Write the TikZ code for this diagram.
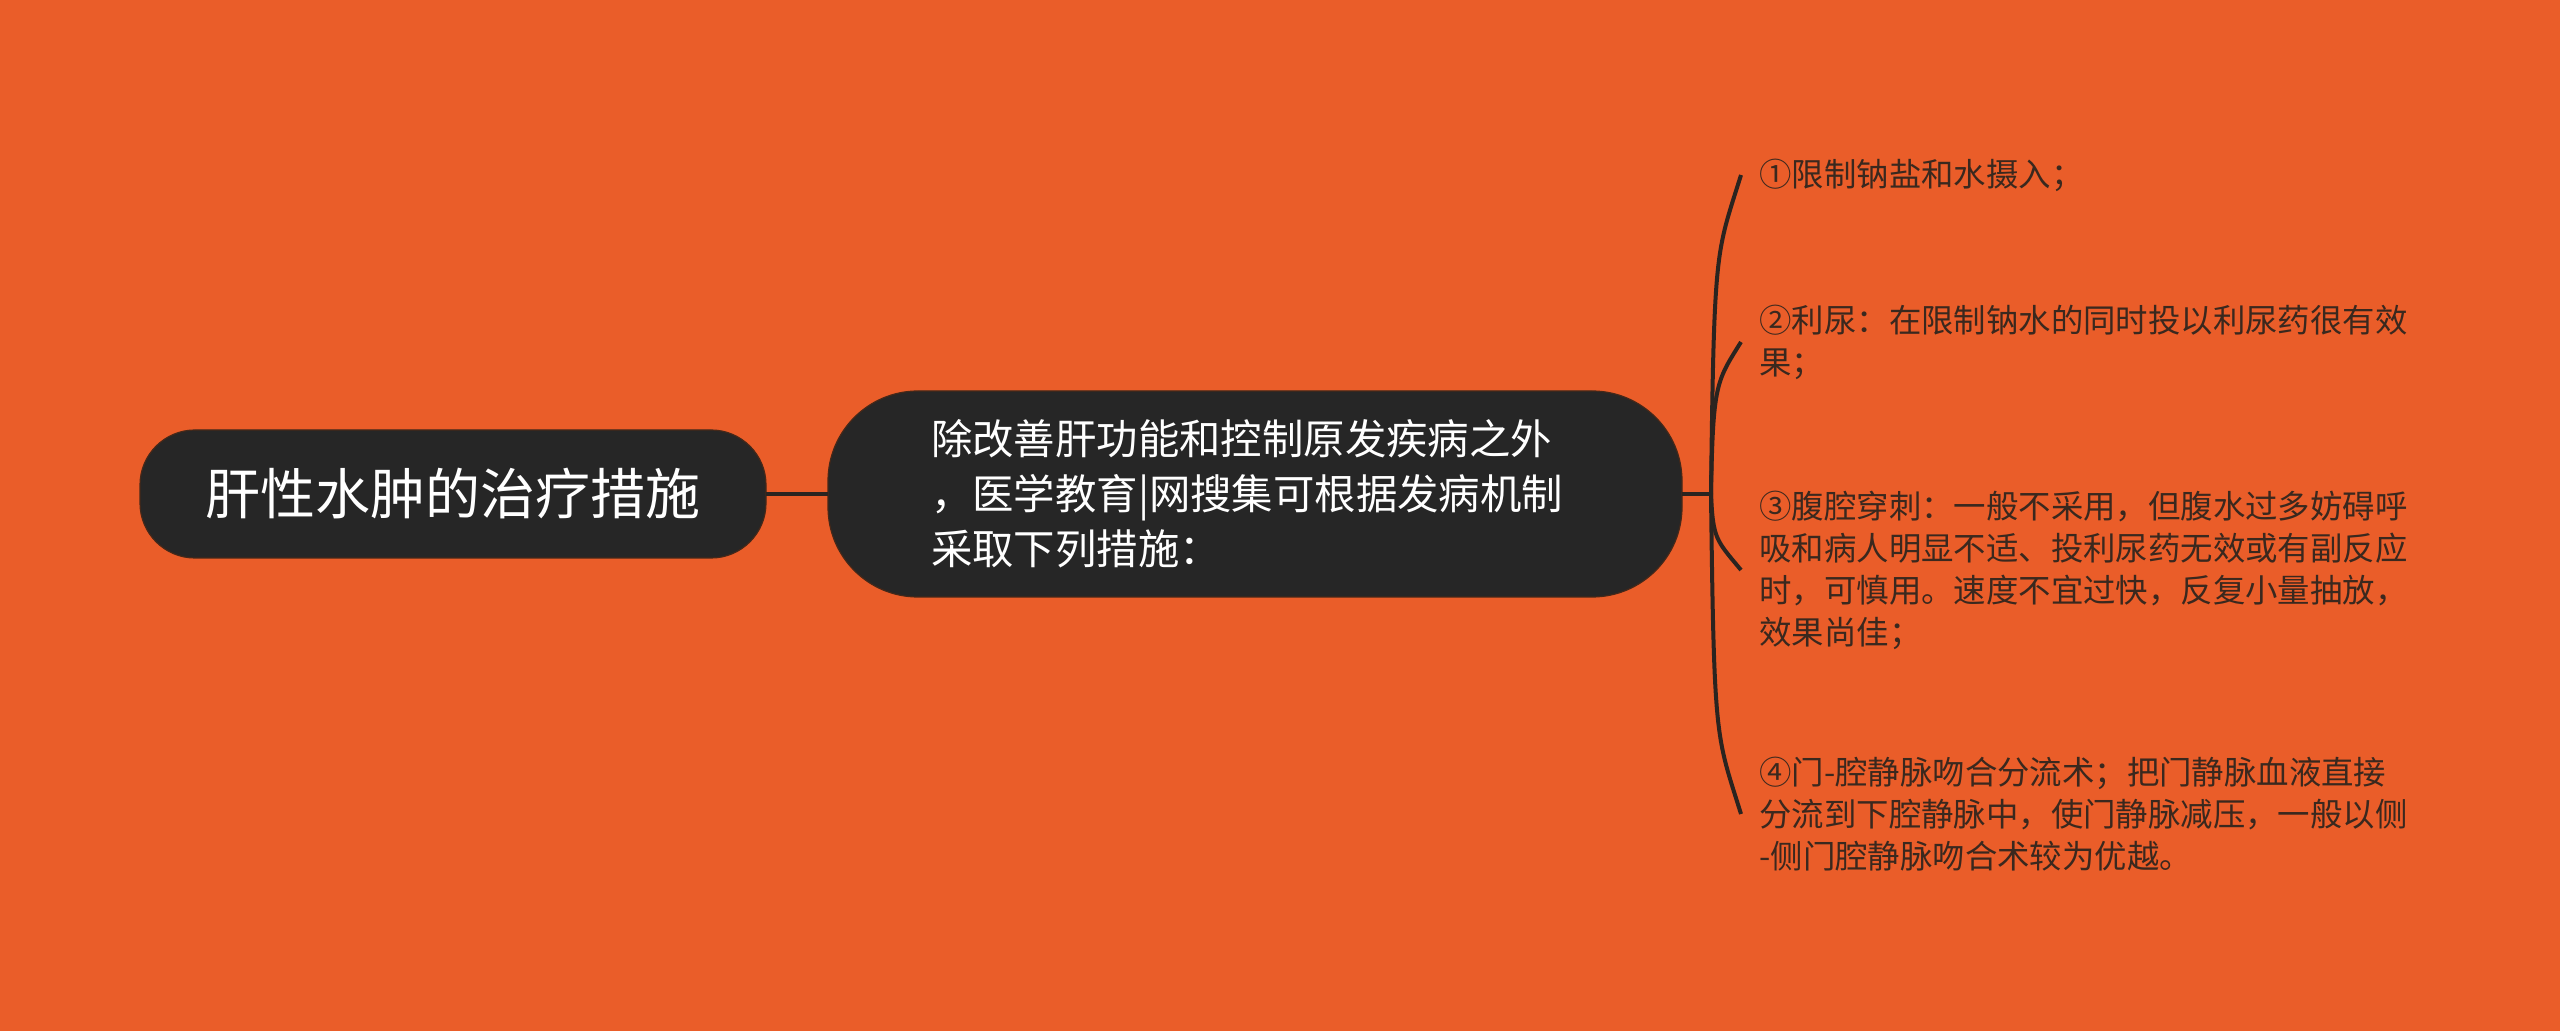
\documentclass[tikz,border=0pt]{standalone}
\usepackage{fontspec}
\setmainfont{Noto Sans CJK SC}
\usetikzlibrary{positioning}
\definecolor{bgorange}{RGB}{234,93,41}
\definecolor{nodedark}{RGB}{38,38,38}
\definecolor{nodeedge}{RGB}{70,40,25}
\definecolor{linedark}{RGB}{42,36,32}
\definecolor{leaftext}{RGB}{58,40,30}

\begin{document}
\begin{tikzpicture}[x=0.5pt, y=-0.5pt,
    main/.style={draw=nodeedge, line width=0.6pt, fill=nodedark, text=white, outer sep=0pt, inner sep=0pt},
    root/.style={main, rounded corners=27.5pt, minimum width=313pt, minimum height=64pt, font=\fontsize{27.5}{33}\selectfont},
    topic/.style={main, rounded corners=45pt, minimum width=427pt, minimum height=103pt, text width=324pt, align=left, font=\fontsize{20.7}{27.5}\selectfont},
    leaf/.style={anchor=west, inner xsep=9pt, inner ysep=0pt, align=left, text=leaftext, font=\fontsize{16.2}{21}\selectfont},
    link/.style={draw=linedark, line width=2pt}
    ]
\useasboundingbox[fill=bgorange] (0,0) rectangle (2560,1031);
% centre
\node[root] (root) at (453,494) {肝性水肿的治疗措施};
\node[topic, right=31pt of root] (topic) {除改善肝功能和控制原发疾病之外\\，医学教育|网搜集可根据发病机制\\采取下列措施：};
\coordinate[right=14.5pt of topic] (jn);
% leaves
\node[leaf] (l1) at (1741,175) {①限制钠盐和水摄入；};
\node[leaf] (l2) at (1741,342) {②利尿：在限制钠水的同时投以利尿药很有效\\果；};
\node[leaf] (l3) at (1741,570) {③腹腔穿刺：一般不采用，但腹水过多妨碍呼\\吸和病人明显不适、投利尿药无效或有副反应\\时，可慎用。速度不宜过快，反复小量抽放，\\效果尚佳；};
\node[leaf] (l4) at (1741,814) {④门-腔静脉吻合分流术；把门静脉血液直接\\分流到下腔静脉中，使门静脉减压，一般以侧\\-侧门腔静脉吻合术较为优越。};
\draw[link] (root) -- (topic);
\draw[link] (topic) -- (jn);
\draw[link] (jn) .. controls +(3,-250) and +(-25,80) .. (l1.west);
\draw[link] (jn) .. controls +(2,-110) and +(-25,40) .. (l2.west);
\draw[link] (jn) .. controls +(2,45) and +(-25,-30) .. (l3.west);
\draw[link] (jn) .. controls +(3,250) and +(-25,-80) .. (l4.west);
\end{tikzpicture}
\end{document}
